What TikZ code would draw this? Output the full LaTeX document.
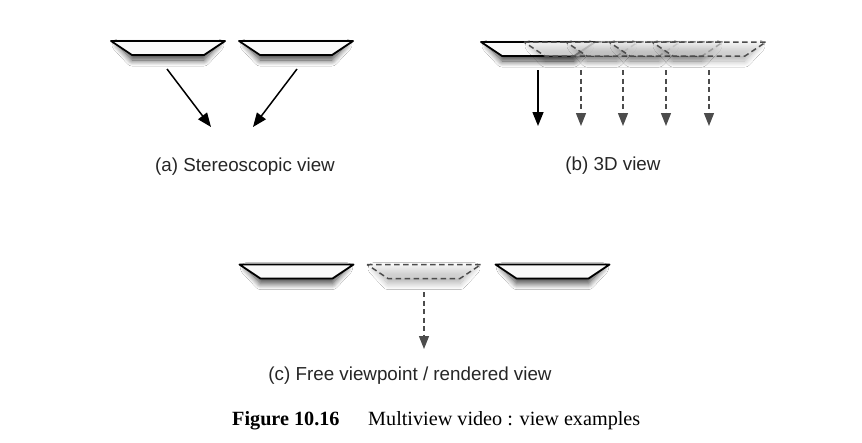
\documentclass[tikz,border=0pt]{standalone}
\usepackage{fontspec}
\setmainfont{Liberation Serif}
\newfontfamily\lsans{Liberation Sans}
\usetikzlibrary{arrows.meta,shadows.blur}
\begin{document}
\begin{tikzpicture}[x=1pt,y=-1pt,
  shadowsolid/.style={blur shadow={shadow xshift=0pt,shadow yshift=0pt,shadow blur radius=6pt,shadow blur steps=12,shadow opacity=75}},
  shadowdash/.style={blur shadow={shadow xshift=0pt,shadow yshift=0pt,shadow blur radius=6pt,shadow blur steps=12,shadow opacity=30}},
  trapsolid/.style={draw=black,line width=1.8pt,fill=gray!4,line join=round},
  trapdash/.style={draw=gray!60!black,line width=1.5pt,dash pattern=on 5.5pt off 3.5pt,
    top color=gray!5,bottom color=gray!22,fill opacity=0.55},
  arrsolid/.style={line width=1.5pt,-{Triangle[length=14pt,width=11pt]}},
  arrdash/.style={draw=gray!60!black,line width=1.3pt,dash pattern=on 5pt off 3.5pt,
    -{Triangle[length=13pt,width=10pt]}},
  lab/.style={font=\lsans\fontsize{18.8}{22}\selectfont,text=black!85,inner sep=0pt,anchor=base},
  captionstyle/.style={font=\fontsize{20.2}{24}\selectfont,inner sep=0pt,anchor=base west},
  trapS/.pic={\path[shadowsolid] (-50,-3) -- (50,-3) -- (36,12) -- (-36,12) -- cycle;
              \path[trapsolid] (-57,-7) -- (57,-7) -- (36,7) -- (-36,7) -- cycle;},
  trapD/.pic={\path[shadowdash] (-50,-3) -- (50,-3) -- (36,12) -- (-36,12) -- cycle;
              \path[trapdash] (-57,-7) -- (57,-7) -- (36,7) -- (-36,7) -- cycle;}
]
\useasboundingbox[fill=white] (0,0) rectangle (862,442);

% (a) stereoscopic
\pic (ta1) at (168,48) {trapS};
\pic (ta2) at (296,48) {trapS};
\coordinate (a1s) at (167,69);
\coordinate (a1e) at (211,127);
\coordinate (a2s) at (297,69);
\coordinate (a2e) at (253,127);
\draw[arrsolid] (a1s) -- (a1e);
\draw[arrsolid] (a2s) -- (a2e);
\node[lab] (laba) at (245,171) {(a) Stereoscopic view};

% (b) 3D view
\pic (tb1) at (538,49) {trapS};
\pic (tb2) at (581,49) {trapD};
\pic (tb3) at (623,49) {trapD};
\pic (tb4) at (666,49) {trapD};
\pic (tb5) at (709,49) {trapD};
\coordinate (b1s) at (538,70);
\coordinate (b1e) at (538,126);
\coordinate (b2s) at (581,70);
\coordinate (b2e) at (581,126);
\coordinate (b3s) at (623,70);
\coordinate (b3e) at (623,126);
\coordinate (b4s) at (666,70);
\coordinate (b4e) at (666,126);
\coordinate (b5s) at (709,70);
\coordinate (b5e) at (709,126);
\draw[arrsolid] (b1s) -- (b1e);
\draw[arrdash] (b2s) -- (b2e);
\draw[arrdash] (b3s) -- (b3e);
\draw[arrdash] (b4s) -- (b4e);
\draw[arrdash] (b5s) -- (b5e);
\node[lab] (labb) at (613,170) {(b) 3D view};

% (c) free viewpoint
\pic (tc1) at (296.5,271.5) {trapS};
\pic (tc2) at (424,271.5) {trapD};
\pic (tc3) at (552.5,271.5) {trapS};
\coordinate (cs) at (424,292);
\coordinate (ce) at (424,349);
\draw[arrdash] (cs) -- (ce);
\node[lab] (labc) at (410,380) {(c) Free viewpoint / rendered view};

% caption
\node[captionstyle,font=\fontsize{20.2}{24}\selectfont\bfseries] (capnum) at (232,425) {Figure 10.16};
\node[captionstyle] (captext) at (368,425) {Multiview video : view examples};
\end{tikzpicture}
\end{document}
